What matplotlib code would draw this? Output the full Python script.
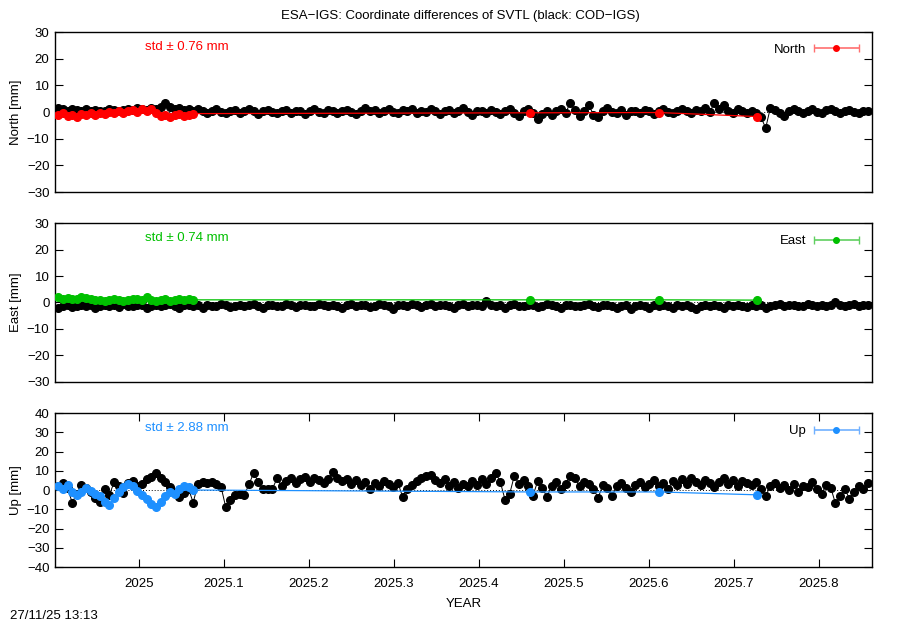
import numpy as np
import matplotlib.pyplot as plt
from matplotlib.legend_handler import HandlerErrorbar

plt.rcParams['font.family'] = ['Liberation Sans', 'DejaVu Sans']
plt.rcParams['font.size'] = 9.5

# epochs: every 2nd day from first day of the series
t_start = 2024.905
t_step = 2 / 365.25

# black: COD-IGS differences [mm]
north_cod = [1.5, 1.0, 0.5, 1.0, 0.8, 0.3, 1.0, 0.5, 0.8, 0.2, 0.5, 1.0, 0.6, 0.3, 0.8, 1.2, 0.6, 1.5, 1.0, 0.8,
             1.5, 1.2, 2.0, 3.5, 1.8, 1.0, 1.5, 0.8, 1.2, 0.5,
             1.0, 0.2, -0.5, 0.5, 1.0, 0.0, -0.3, 0.5, 0.8, -0.5, 0.3, 1.0, 0.2, -0.8, 0.5, 0.8, 0.0, -0.5, 0.3, 0.8,
             -0.3, 0.5, 0.2, -0.6, 0.5, 1.0, 0.0, -0.5, 0.6, 0.2,
             -0.5, 0.3, 0.8, 0.0, -0.8, 0.5, 1.5, 0.2, 0.8, -0.3, 0.5, 1.2, 0.0, -0.5, 0.8, 0.3, 1.0, -0.2, 0.5, 0.0,
             1.2, 0.5, -0.8, 0.3, 0.8, -0.5, 0.5, 1.5, 0.0, -1.0,
             0.5, 0.2, -0.5, 0.8, 0.0, -0.8, 0.5, 1.0, -0.3, -1.5, 0.5, 1.2, -0.5, -2.5, -0.8, 0.5, -1.0, 0.3, 1.0, -0.5,
             3.5, 0.8, -1.5, 0.5, 2.5, -1.0, -2.0, 0.5, 1.5, 0.0,
             -0.5, 0.8, -1.0, 0.3, 0.5, -0.5, 0.8, 0.2, -0.8, 0.5, 1.0, 0.0, -0.5, 0.5, 1.2, 0.3, -0.3, 0.8, 0.5, 1.5,
             0.0, 3.5, 1.0, 2.5, 0.5, -0.5, 1.0, 0.3, -0.2, 0.5,
             -0.5, -2.0, -6.0, 1.5, 0.8, -0.5, -1.5, 0.5, 1.0, 0.2, -0.5, 0.5, 1.0, 0.0, -0.5, 0.8, 1.2, 0.3, -0.5, 0.5,
             0.8, 0.0, -0.3, 0.5, 0.3]
east_cod = [-2.0, -1.5, -1.0, -1.8, -1.2, -0.8, -1.5, -1.0, -2.0, -1.2, -0.8, -1.5, -1.0, -1.8, -0.5, -1.2, -1.5, -0.8,
            -1.0, -2.0, -1.2, -0.8, -1.5, -1.0, -0.5, -1.5, -2.2, -1.0, -0.8, -1.5,
            -1.0, -2.0, -0.8, -1.2, -1.5, -0.5, -1.0, -1.8, -1.2, -0.8, -1.5, -1.0, -0.5, -1.2, -2.0, -1.0, -0.8, -1.5,
            -1.2, -0.5, -1.0, -1.8, -1.0, -0.8, -1.5, -1.2, -0.5, -1.0, -1.5, -0.8,
            -1.2, -2.0, -1.0, -0.5, -1.5, -1.0, -0.8, -1.8, -1.2, -0.5, -1.0, -1.5, -2.5, -1.0, -0.8, -1.2, -0.5, -1.0,
            -1.8, -1.0, -0.5, -1.5, -1.0, -0.8, -1.2, -2.0, -1.0, -0.5, -1.5, -1.0,
            -0.8, -1.2, 0.5, -1.0, -1.5, -0.8, -2.0, -1.0, -0.5, -1.5, -1.2, -0.8, -1.0, -1.8, -1.2, -0.5, -1.0, -1.5,
            -2.0, -1.0, -0.8, -1.2, -1.5, -1.0, -0.5, -1.2, -1.8, -1.0, -0.8, -1.5,
            -2.0, -1.2, -1.0, -2.5, -1.5, -0.8, -1.2, -2.0, -1.0, -1.5, -0.8, -1.2, -2.2, -1.0, -1.5, -0.8, -1.8, -2.5,
            -1.2, -1.0, -1.5, -0.8, -1.2, -2.0, -1.0, -1.5, -0.8, -1.2, -1.8, -1.0,
            -1.5, -0.8, -2.0, -1.2, -1.0, -0.5, -1.5, -1.0, -0.8, -1.2, -1.5, -0.5, -1.0, -1.2, -0.8, -1.5, -1.0, 0.0,
            -0.8, -1.2, -1.0, -0.5, -1.2, -0.8, -1.0]
up_cod = [2.0, 3.5, 1.0, -6.5, -2.0, 2.5, 1.0, -1.0, -4.0, -6.0, 0.5, -2.5, 4.0, 2.0, -1.5, 3.5, 4.5, 2.0, 3.0, 5.5,
          7.0, 9.0, 6.0, 4.0, 1.5, -1.0, -3.5, -1.5, 0.5, -6.5,
          3.0, 4.0, 3.5, 4.0, 3.0, 1.5, -9.0, -5.0, -2.5, -2.0, -2.5, 3.0, 9.0, 4.0, 0.5, 0.5, 0.5, 6.0, 2.0, 4.5,
          6.0, 3.5, 5.5, 7.0, 4.0, 6.5, 5.0, 3.5, 5.5, 9.5,
          6.0, 4.5, 5.5, 3.0, 5.0, 2.5, 4.0, 0.5, 3.5, 2.0, 4.5, 3.0, 1.5, 3.5, -3.5, 0.5, 2.5, 4.5, 6.0, 7.5,
          8.0, 5.0, 3.5, 5.5, 2.0, 4.0, 1.0, 3.0, 2.0, 4.5,
          2.5, 5.5, 3.0, 6.5, 9.0, 4.0, -5.0, -2.0, 7.5, 3.0, 5.0, 2.0, -3.0, 4.5, 1.0, -3.5, 2.0, 4.0, 0.5, 3.0,
          7.5, 6.0, 2.0, 4.0, 3.0, 0.5, -4.0, 2.5, 1.0, -3.0,
          2.0, 3.5, 1.0, -1.0, 2.5, 4.0, 1.5, 3.0, 5.0, 2.0, 3.5, 0.5, 4.5, 2.5, 5.5, 3.0, 6.0, 4.0, 2.5, 5.0,
          3.5, 1.5, 4.0, 6.5, 3.0, 5.0, 2.0, 4.5, 3.5, 2.5,
          4.0, 0.5, -3.0, 2.0, 3.5, 1.0, 2.5, 0.0, 3.0, -1.0, 2.0, 1.5, 4.0, 0.5, -2.0, 2.5, 1.0, -7.0, -3.0, 0.5,
          -4.5, -1.0, 2.0, 0.5, 3.5]

# coloured: ESA-IGS differences [mm], dense early part + a few later epochs
esa_late_t = [2025.46, 2025.612, 2025.727]
north_esa = [-1.0, -0.5, -1.5, -1.0, -2.0, -0.8, -1.2, -0.5, -1.0, -0.3, -0.8, 0.0, -0.5, 0.5, -0.3, 0.3, 0.8, 0.0,
             1.0, 0.5, 1.2, -0.5, -1.5, -1.0, -1.8, -1.2, -0.8, -1.5, -1.0, -0.6]
north_esa_late = [-0.3, -0.2, -1.7]
east_esa = [2.0, 1.5, 1.8, 1.2, 1.5, 2.0, 1.8, 1.2, 0.8, 1.0, 0.5, 0.8, 1.2, 1.0, 0.5, 1.0, 1.5, 1.2, 0.8, 2.0,
            1.0, 0.5, 0.8, 1.2, 0.5, 1.0, 1.5, 0.8, 1.2, 1.0]
east_esa_late = [1.0, 1.0, 0.9]
up_esa = [2.0, 0.5, 2.5, -1.0, -2.5, -1.0, 1.0, -0.5, -2.0, -3.0, -6.0, -8.0, -4.0, -1.0, 1.5, 3.0, 2.0, -0.5, -2.5,
          -4.5, -7.5, -9.0, -6.0, -3.0, -1.0, -2.0, 0.5, 2.0, 1.5, 0.0]
up_esa_late = [-1.0, -1.0, -2.5]

names = ['North', 'East', 'Up']
stds = ['0.76', '0.74', '2.88']
colors = ['#ff0000', '#00c000', '#1e90ff']
light = ['#ff7070', '#60d060', '#70b0ff']
ylims = [(-30, 30), (-30, 30), (-40, 40)]
xticks = [2025.0, 2025.1, 2025.2, 2025.3, 2025.4, 2025.5, 2025.6, 2025.7, 2025.8]
xlabels = ['2025', '2025.1', '2025.2', '2025.3', '2025.4', '2025.5', '2025.6', '2025.7', '2025.8']

cod = [north_cod, east_cod, up_cod]
esa = [north_esa, east_esa, up_esa]
esa_late = [north_esa_late, east_esa_late, up_esa_late]

fig = plt.figure(figsize=(9, 6.3), dpi=100)
fig.text(0.511, 0.984, 'ESA\u2212IGS: Coordinate differences of SVTL (black: COD\u2212IGS)',
         ha='center', va='top', fontsize=9.5)

boxes = [[0.0611, 0.6952, 0.9078, 0.2540],
         [0.0611, 0.3937, 0.9078, 0.2523],
         [0.0611, 0.1000, 0.9078, 0.2444]]

for i in range(3):
    ax = fig.add_axes(boxes[i])
    tc = t_start + np.arange(len(cod[i])) * t_step
    te = list(t_start + np.arange(len(esa[i])) * t_step) + esa_late_t
    ve = esa[i] + esa_late[i]

    ax.axhline(0, color='black', lw=0.7, ls=(0, (1, 2)), zorder=1)
    ax.plot(tc, cod[i], '-o', color='black', lw=0.7, ms=5.5, zorder=2)
    ax.plot(te, ve, '-o', color=colors[i], lw=0.9, ms=5.5, zorder=3)
    ax.errorbar([np.nan], [np.nan], xerr=[0.01], fmt='o', color=colors[i], ecolor=light[i],
                elinewidth=1.2, capsize=3, ms=4, label=names[i])

    ax.set_xlim(2024.9012, 2025.8624)
    ax.set_ylim(*ylims[i])
    ax.set_yticks(np.arange(ylims[i][0], ylims[i][1] + 1, 10))
    ax.set_ylabel(names[i] + ' [mm]')
    ax.yaxis.set_label_coords(-0.040, 0.5)
    ax.tick_params(axis='y', direction='in', length=6, width=0.8, right=True, pad=4)
    if i < 2:
        ax.set_xticks([])
    else:
        ax.set_xticks(xticks)
        ax.set_xticklabels(xlabels)
        ax.tick_params(axis='x', direction='in', length=6, width=0.8, top=True, pad=8)
        ax.set_xlabel('YEAR', labelpad=6)
    for s in ax.spines.values():
        s.set_linewidth(1.0)

    ax.text(0.11, 0.905, 'std \u00b1 ' + stds[i] + ' mm', color=colors[i],
            transform=ax.transAxes, ha='left', va='center')
    ax.legend(loc='upper right', frameon=False, markerfirst=False, handlelength=3.6,
              borderaxespad=0.5, handletextpad=0.5,
              handler_map={type(ax.containers[0]): HandlerErrorbar(xerr_size=1.7)})

fig.text(0.011, 0.013, '27/11/25 13:13', ha='left', va='bottom', fontsize=9.5)

fig.savefig('out.png', dpi=100)
